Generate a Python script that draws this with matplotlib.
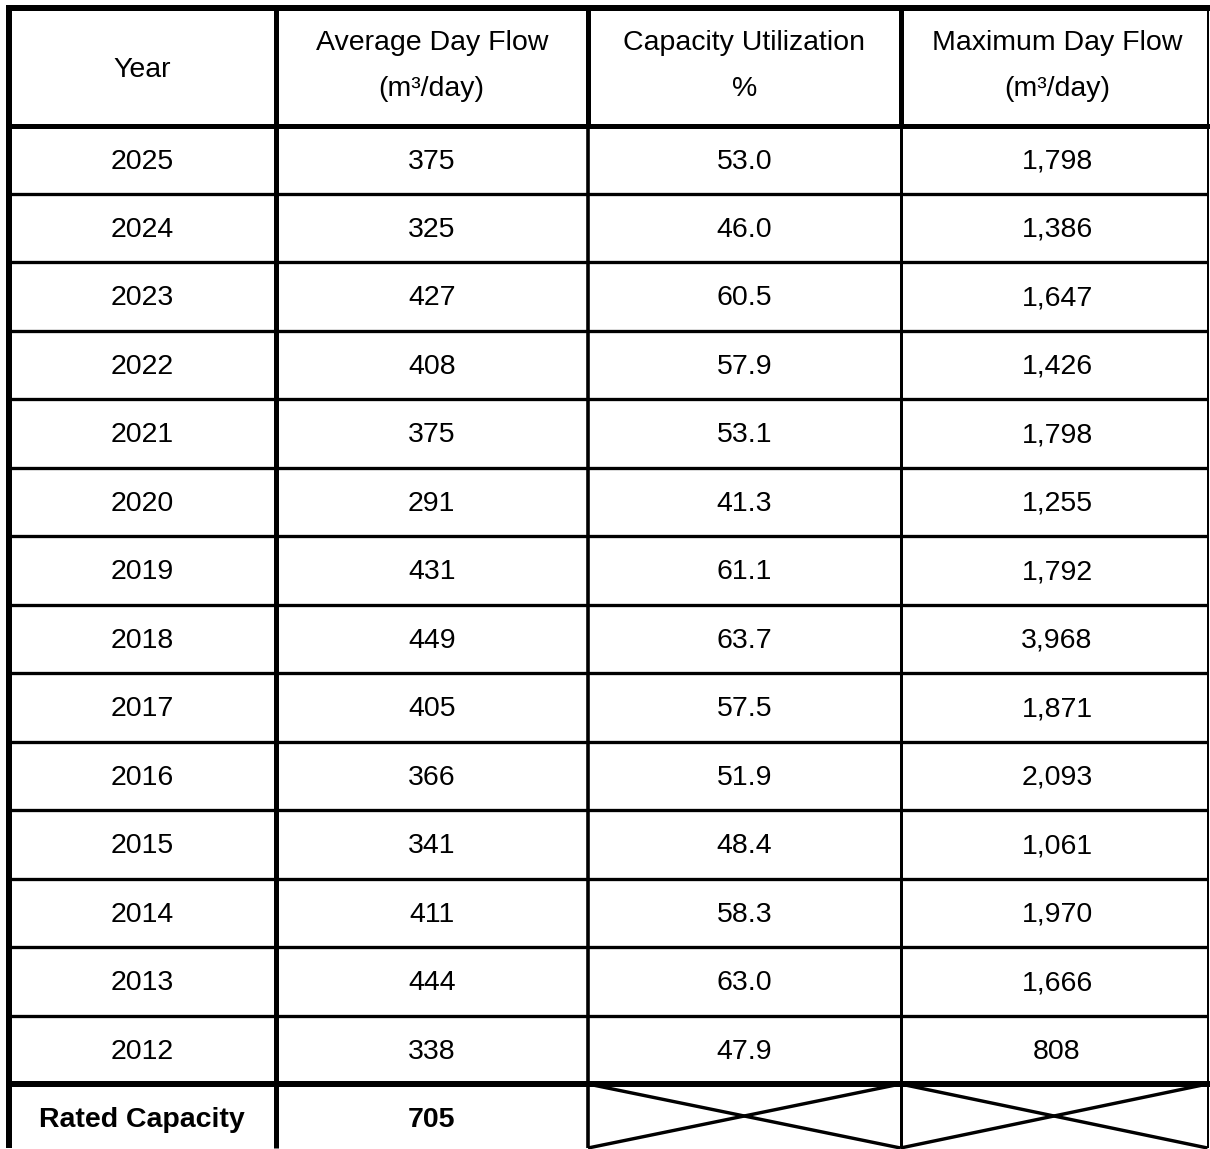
import matplotlib
matplotlib.use("Agg")
import matplotlib.pyplot as plt

# table content
headers = [
    ["Year"],
    ["Average Day Flow", "(m³/day)"],
    ["Capacity Utilization", "%"],
    ["Maximum Day Flow", "(m³/day)"],
]
years = ["2025", "2024", "2023", "2022", "2021", "2020", "2019", "2018",
         "2017", "2016", "2015", "2014", "2013", "2012"]
avg_flow = ["375", "325", "427", "408", "375", "291", "431", "449",
            "405", "366", "341", "411", "444", "338"]
utilization = ["53.0", "46.0", "60.5", "57.9", "53.1", "41.3", "61.1", "63.7",
               "57.5", "51.9", "48.4", "58.3", "63.0", "47.9"]
max_flow = ["1,798", "1,386", "1,647", "1,426", "1,798", "1,255", "1,792", "3,968",
            "1,871", "2,093", "1,061", "1,970", "1,666", "808"]
rated_label = "Rated Capacity"
rated_value = "705"

W, H = 1210, 1149
PX = 0.72  # pixels -> points at dpi 100
FONT = "Liberation Sans"
FS = 20.5

fig = plt.figure(figsize=(W / 100, H / 100), dpi=100)
ax = fig.add_axes([0, 0, 1, 1])
ax.set_xlim(0, W)
ax.set_ylim(H, 0)
ax.axis("off")

col_x = [9, 275.5, 588, 900.5, 1207.5]
top, head_bot, rated_top, bottom = 8, 125.5, 1084, 1148
step = (rated_top - head_bot) / len(years)
row_y = [head_bot + i * step for i in range(len(years) + 1)]
# last column looks clipped on the right, its text sits a bit right of the cell middle
centers = [(col_x[i] + col_x[i + 1]) / 2 for i in range(3)] + [1057]


def line(x, y, px, cap="projecting"):
    ax.plot(x, y, color="black", lw=px * PX, solid_capstyle=cap)


# horizontal rules
line([col_x[0], col_x[-1]], [top, top], 6)
line([col_x[0], col_x[-1]], [head_bot, head_bot], 5)
for y in row_y[1:-1]:
    line([col_x[0], col_x[-1]], [y, y], 3.3, cap="butt")
line([col_x[0], col_x[-1]], [rated_top, rated_top], 6)

# vertical rules
line([col_x[0], col_x[0]], [top, bottom], 6, cap="butt")
line([col_x[1], col_x[1]], [top, bottom], 5, cap="butt")
for x, body_px in [(col_x[2], 3.6), (col_x[3], 3.0)]:
    line([x, x], [top, head_bot], 5, cap="butt")
    line([x, x], [head_bot, bottom], body_px, cap="butt")
line([col_x[4], col_x[4]], [top, bottom], 2, cap="butt")

# crossed-out cells in the rated capacity row
for c in (2, 3):
    x0, x1 = col_x[c], col_x[c + 1]
    line([x0, x1], [rated_top, bottom], 3.4, cap="butt")
    line([x0, x1], [bottom, rated_top], 3.4, cap="butt")

txt = dict(ha="center", va="baseline", fontsize=FS, family=FONT, color="black")

# header
for cx, lines in zip(centers, headers):
    if len(lines) == 1:
        ax.text(cx, 77, lines[0], **txt)
    else:
        ax.text(cx, 50, lines[0], **txt)
        ax.text(cx, 96, lines[1], **txt)

# body
for i, vals in enumerate(zip(years, avg_flow, utilization, max_flow)):
    yc = (row_y[i] + row_y[i + 1]) / 2 + 8.8
    for cx, v in zip(centers, vals):
        ax.text(cx, yc, v, **txt)

ax.text(centers[0], 1127, rated_label, fontweight="bold", **txt)
ax.text(centers[1], 1127, rated_value, fontweight="bold", **txt)

fig.savefig("out.png", dpi=100)
